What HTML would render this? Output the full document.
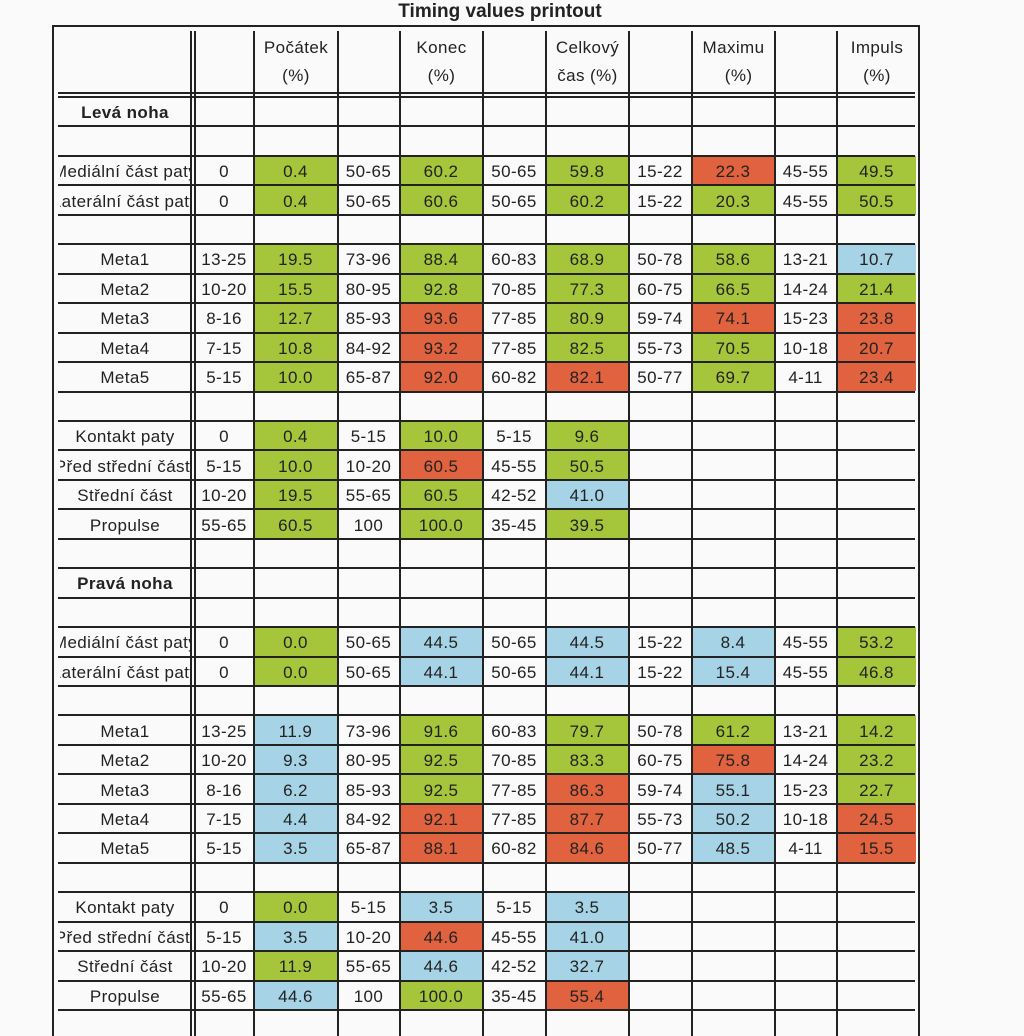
<!DOCTYPE html>
<html><head><meta charset="utf-8"><style>
html,body{margin:0;padding:0;background:#fafafa;}
#page{position:relative;width:1024px;height:1036px;overflow:hidden;font-family:"Liberation Sans",sans-serif;color:#222;}
.t{position:absolute;left:0;top:0;width:1000px;text-align:center;font-weight:bold;font-size:19px;line-height:24px;}
.vl{position:absolute;width:2px;background:#222;}
.hl{position:absolute;height:2px;background:#222;}
.c{position:absolute;display:flex;align-items:center;justify-content:center;white-space:nowrap;overflow:hidden;font-size:17px;letter-spacing:0.4px;padding-top:3px;box-sizing:border-box;}
.g{background:#a5c63b;}.r{background:#e0623e;}.b{background:#a7d3e6;}
.hd{position:absolute;text-align:center;font-size:17px;line-height:28px;letter-spacing:0.4px;}
</style></head><body>
<div id="page">
<div class="t">Timing values printout</div>
<div class="hd" style="left:253px;top:34px;width:86px">Počátek<br>(%)</div>
<div class="hd" style="left:399px;top:34px;width:85px">Konec<br>(%)</div>
<div class="hd" style="left:545px;top:34px;width:85px">Celkový<br>čas (%)</div>
<div class="hd" style="left:691px;top:34px;width:85px">Maximu<br>&nbsp;&nbsp;(%)</div>
<div class="hd" style="left:836px;top:34px;width:82px">Impuls<br>(%)</div>
</div>
<script>
const labels=["Levá noha","","Mediální část paty","Laterální část paty","","Meta1","Meta2","Meta3","Meta4","Meta5","","Kontakt paty","Před střední částí","Střední část","Propulse","","Pravá noha","","Mediální část paty","Laterální část paty","","Meta1","Meta2","Meta3","Meta4","Meta5","","Kontakt paty","Před střední částí","Střední část","Propulse",""];
const values=[[],[],
["0","0.4","50-65","60.2","50-65","59.8","15-22","22.3","45-55","49.5"],
["0","0.4","50-65","60.6","50-65","60.2","15-22","20.3","45-55","50.5"],[],
["13-25","19.5","73-96","88.4","60-83","68.9","50-78","58.6","13-21","10.7"],
["10-20","15.5","80-95","92.8","70-85","77.3","60-75","66.5","14-24","21.4"],
["8-16","12.7","85-93","93.6","77-85","80.9","59-74","74.1","15-23","23.8"],
["7-15","10.8","84-92","93.2","77-85","82.5","55-73","70.5","10-18","20.7"],
["5-15","10.0","65-87","92.0","60-82","82.1","50-77","69.7","4-11","23.4"],[],
["0","0.4","5-15","10.0","5-15","9.6"],
["5-15","10.0","10-20","60.5","45-55","50.5"],
["10-20","19.5","55-65","60.5","42-52","41.0"],
["55-65","60.5","100","100.0","35-45","39.5"],[],[],[],
["0","0.0","50-65","44.5","50-65","44.5","15-22","8.4","45-55","53.2"],
["0","0.0","50-65","44.1","50-65","44.1","15-22","15.4","45-55","46.8"],[],
["13-25","11.9","73-96","91.6","60-83","79.7","50-78","61.2","13-21","14.2"],
["10-20","9.3","80-95","92.5","70-85","83.3","60-75","75.8","14-24","23.2"],
["8-16","6.2","85-93","92.5","77-85","86.3","59-74","55.1","15-23","22.7"],
["7-15","4.4","84-92","92.1","77-85","87.7","55-73","50.2","10-18","24.5"],
["5-15","3.5","65-87","88.1","60-82","84.6","50-77","48.5","4-11","15.5"],[],
["0","0.0","5-15","3.5","5-15","3.5"],
["5-15","3.5","10-20","44.6","45-55","41.0"],
["10-20","11.9","55-65","44.6","42-52","32.7"],
["55-65","44.6","100","100.0","35-45","55.4"],[]];
const colors=[[],[],["g","g","g","r","g"],["g","g","g","g","g"],[],
["g","g","g","g","b"],["g","g","g","g","g"],["g","r","g","r","r"],["g","r","g","g","r"],["g","r","r","g","r"],[],
["g","g","g"],["g","r","g"],["g","g","b"],["g","g","g"],[],[],[],
["g","b","b","b","g"],["g","b","b","b","g"],[],
["b","g","g","g","g"],["b","g","g","r","g"],["b","g","r","b","g"],["b","r","r","b","r"],["b","r","r","b","r"],[],
["g","b","b"],["b","r","b"],["g","b","b"],["b","g","r"],[]];
const page=document.getElementById('page');
const cols=[194,253,337,399,482,545,628,691,774,836,916];
const top0=96,rowH=29.45;
function add(cls,st){const d=document.createElement('div');d.className=cls;Object.assign(d.style,st);page.appendChild(d);return d;}
// borders
let e;
e=add('vl',{left:'52px',top:'25px',height:'1011px'});


e=add('vl',{left:'918px',top:'25px',height:'1011px'});


e=add('hl',{left:'52px',top:'25px',width:'868px'});


e=add('vl',{left:'190px',top:'31px',height:'1005px'});


// cells
labels.forEach((lab,i)=>{
  const y=top0+i*rowH;
  const v=values[i],cl=colors[i];
  for(let k=0;k<v.length;k++){
    const x0=cols[k]+1,x1=cols[k+1];
    const cc=(k%2===1)?cl[(k-1)/2]:'';
    const c=add('c'+(cc?' '+cc:''),{left:x0+'px',top:(y+1)+'px',width:(x1-x0)+'px',height:(rowH)+'px'});
    c.textContent=v[k];
    
    
  }
  if(lab){
    const l=add('c',{left:'60px',top:(y+1)+'px',width:'130px',height:rowH+'px'});
    l.textContent=lab;
    if(lab.indexOf('noha')>=0){l.style.fontWeight='bold';}
    
    
  }
});
// vertical lines
cols.slice(0,10).forEach((x,i)=>{
  const v=add('vl',{left:x+'px',top:'31px',height:'1005px'});
  
  
});
// horizontal lines
e=add('hl',{left:'58px',top:'92px',width:'857px'});


for(let i=0;i<=31;i++){
  const h=add('hl',{left:'58px',top:Math.round(top0+i*rowH)+'px',width:'857px'});
  
  
}
</script>
</body></html>
